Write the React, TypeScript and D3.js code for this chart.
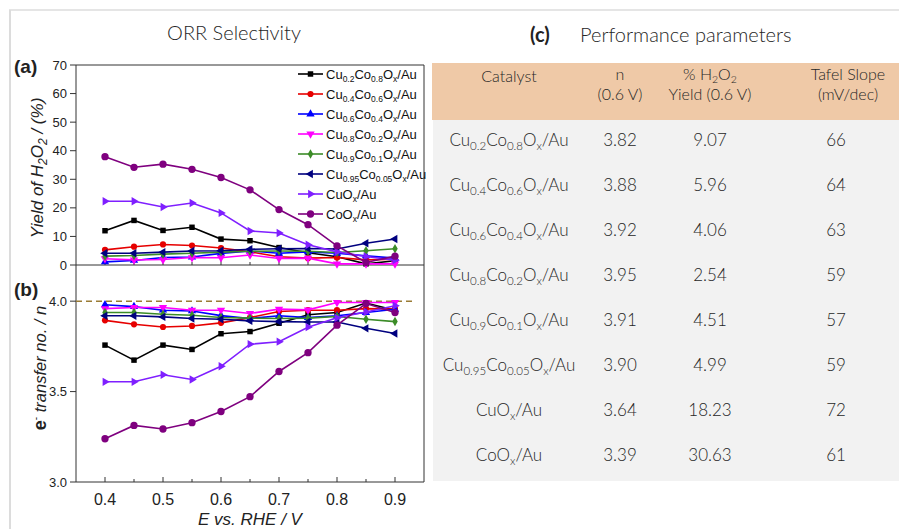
import React from "react";
import * as d3 from "d3";

const potentials = [0.4, 0.45, 0.5, 0.55, 0.6, 0.65, 0.7, 0.75, 0.8, 0.85, 0.9];
const seriesNames = [
  "Cu_0.2Co_0.8O_x/Au",
  "Cu_0.4Co_0.6O_x/Au",
  "Cu_0.6Co_0.4O_x/Au",
  "Cu_0.8Co_0.2O_x/Au",
  "Cu_0.9Co_0.1O_x/Au",
  "Cu_0.95Co_0.05O_x/Au",
  "CuO_x/Au",
  "CoO_x/Au",
];
const seriesColors = ["#000000", "#e60000", "#0000ff", "#ff00ff", "#3c8c28", "#00007f", "#7f1fff", "#7f007f"];
const seriesMarkers = ["square", "circle", "up", "down", "diamond", "left", "right", "bigcircle"];

const yieldCu02 = [12.0, 15.6, 12.1, 13.2, 9.07, 8.5, 6.1, 4.3, 2.9, 0.4, 1.5];
const yieldCu04 = [5.3, 6.4, 7.2, 6.8, 5.96, 4.6, 2.9, 2.4, 2.6, 1.8, 2.0];
const yieldCu06 = [1.1, 1.6, 2.6, 2.8, 4.06, 4.9, 4.1, 4.6, 4.1, 3.2, 2.4];
const yieldCu08 = [2.2, 1.8, 1.9, 2.6, 2.54, 3.5, 2.3, 2.4, 0.4, 0.4, 0.4];
const yieldCu09 = [3.1, 3.3, 3.8, 4.1, 4.51, 4.8, 4.9, 4.8, 4.4, 5.0, 5.7];
const yieldCu095 = [4.1, 4.1, 4.5, 4.9, 4.99, 5.5, 5.7, 5.8, 5.6, 7.6, 9.1];
const yieldCuO = [22.3, 22.3, 20.3, 21.7, 18.23, 11.9, 11.2, 7.1, 4.6, 3.0, 1.7];
const yieldCoO = [37.9, 34.2, 35.3, 33.5, 30.63, 26.3, 19.4, 14.1, 6.7, 0.9, 3.1];

const nCu02 = [3.757, 3.674, 3.757, 3.733, 3.82, 3.832, 3.878, 3.925, 3.937, 3.99, 3.95];
const nCu04 = [3.894, 3.872, 3.857, 3.863, 3.88, 3.909, 3.943, 3.95, 3.95, 3.959, 3.956];
const nCu06 = [3.98, 3.97, 3.95, 3.946, 3.92, 3.904, 3.919, 3.909, 3.919, 3.937, 3.955];
const nCu08 = [3.959, 3.965, 3.965, 3.95, 3.95, 3.932, 3.956, 3.952, 3.993, 3.993, 3.993];
const nCu09 = [3.937, 3.937, 3.928, 3.922, 3.91, 3.906, 3.904, 3.906, 3.915, 3.9, 3.887];
const nCu095 = [3.919, 3.919, 3.913, 3.904, 3.9, 3.891, 3.887, 3.885, 3.885, 3.85, 3.821];
const nCuO = [3.554, 3.554, 3.593, 3.567, 3.64, 3.762, 3.776, 3.856, 3.908, 3.94, 3.975];
const nCoO = [3.239, 3.313, 3.293, 3.328, 3.39, 3.472, 3.611, 3.715, 3.867, 3.987, 3.937];

const yieldSeries = [yieldCu02, yieldCu04, yieldCu06, yieldCu08, yieldCu09, yieldCu095, yieldCuO, yieldCoO];
const nSeries = [nCu02, nCu04, nCu06, nCu08, nCu09, nCu095, nCuO, nCoO];

const yieldTicks = [0, 10, 20, 30, 40, 50, 60, 70];
const nTicks = [3.0, 3.5, 4.0];
const xMajorTicks = [0.4, 0.5, 0.6, 0.7, 0.8, 0.9];
const xMinorTicks = [0.45, 0.55, 0.65, 0.75, 0.85];

const tableHeaders = [["Catalyst"], ["n", "(0.6 V)"], ["% H_2O_2", "Yield (0.6 V)"], ["Tafel Slope", "(mV/dec)"]];
const tableN = ["3.82", "3.88", "3.92", "3.95", "3.91", "3.90", "3.64", "3.39"];
const tableYield = ["9.07", "5.96", "4.06", "2.54", "4.51", "4.99", "18.23", "30.63"];
const tableTafel = ["66", "64", "63", "59", "57", "59", "72", "61"];

function parse(s: string) {
  const parts: { t: string; sub: boolean }[] = [];
  const re = /_(x|[0-9.]+)/g;
  let last = 0;
  let m;
  while ((m = re.exec(s))) {
    if (m.index > last) parts.push({ t: s.slice(last, m.index), sub: false });
    parts.push({ t: m[1], sub: true });
    last = m.index + m[0].length;
  }
  if (last < s.length) parts.push({ t: s.slice(last), sub: false });
  return parts;
}

function Formula(props: any) {
  const { s, subSize, shift, ...rest } = props;
  const parts = parse(s);
  let prevSub = false;
  return (
    <text {...rest}>
      {parts.map((p, i) => {
        let dy = 0;
        if (p.sub && !prevSub) dy = shift;
        if (!p.sub && prevSub) dy = -shift;
        prevSub = p.sub;
        return (
          <tspan key={i} dy={dy} fontSize={p.sub ? subSize : undefined}>
            {p.t}
          </tspan>
        );
      })}
    </text>
  );
}

function markerPath(kind: string) {
  const map: any = {
    square: [d3.symbolSquare, 30, 0],
    circle: [d3.symbolCircle, 30, 0],
    up: [d3.symbolTriangle, 30, 0],
    down: [d3.symbolTriangle, 30, 180],
    diamond: [d3.symbolDiamond, 26, 0],
    left: [d3.symbolTriangle, 30, -90],
    right: [d3.symbolTriangle, 30, 90],
    bigcircle: [d3.symbolCircle, 42, 0],
  };
  const [t, size, rot] = map[kind];
  return { d: d3.symbol().type(t).size(size)() as string, rot };
}

export default function App() {
  const x = d3.scaleLinear().domain([0.35, 0.95]).range([76, 424]);
  const ya = d3.scaleLinear().domain([0, 70]).range([265, 65]);
  const yb = d3.scaleLinear().domain([3.0, 4.2]).range([482, 265]);
  const axisColor = "#333";
  const sans = "'Liberation Sans', Arial, sans-serif";
  const lato = "Lato, 'Open Sans', sans-serif";
  const tcol = "#262626";

  const lineA = d3.line<number>().x((_, i) => x(potentials[i])).y((v) => ya(v));
  const lineB = d3.line<number>().x((_, i) => x(potentials[i])).y((v) => yb(v));

  const renderSeries = (data: number[][], line: any, ys: any) =>
    data.map((vals, si) => {
      const mk = markerPath(seriesMarkers[si]);
      return (
        <g key={si}>
          <path d={line(vals)} fill="none" stroke={seriesColors[si]} strokeWidth={1.6} />
          {vals.map((v, i) => (
            <path
              key={i}
              d={mk.d}
              fill={seriesColors[si]}
              transform={`translate(${x(potentials[i])},${ys(v)}) rotate(${mk.rot})`}
            />
          ))}
        </g>
      );
    });

  const rowY = (i: number) => 146 + i * 45;
  const colX = [509, 620, 710, 836];

  return (
    <svg width={899} height={529} style={{ position: "absolute", left: 0, top: 0, background: "#fff" }}>
      <rect x={0} y={0} width={899} height={529} fill="#fff" />
      {/* frame */}
      <line x1={9} y1={10} x2={899} y2={10} stroke="#dcdcdc" strokeWidth={1.5} />
      <line x1={10} y1={10} x2={10} y2={529} stroke="#dcdcdc" strokeWidth={2} />

      {/* title */}
      <text x={234} y={40} textAnchor="middle" fontFamily={lato} fontSize={20} fontWeight={300} fill={tcol}>
        ORR Selectivity
      </text>

      {/* Panel a axes */}
      <line x1={76} y1={65} x2={424} y2={65} stroke={axisColor} />
      <line x1={424} y1={65} x2={424} y2={482} stroke={axisColor} />
      <line x1={76} y1={65} x2={76} y2={482} stroke={axisColor} />
      <line x1={76} y1={265} x2={424} y2={265} stroke={axisColor} />
      <line x1={76} y1={482} x2={424} y2={482} stroke={axisColor} />
      {yieldTicks.map((t) => (
        <g key={t}>
          <line x1={70} x2={76} y1={ya(t)} y2={ya(t)} stroke={axisColor} />
          <text x={67} y={ya(t) + 4.5} textAnchor="end" fontFamily={sans} fontSize={13} fill="#222">
            {t}
          </text>
        </g>
      ))}
      {nTicks.map((t) => (
        <g key={t}>
          <line x1={70} x2={76} y1={yb(t)} y2={yb(t)} stroke={axisColor} />
          <text x={67} y={yb(t) + 4.5} textAnchor="end" fontFamily={sans} fontSize={13} fill="#222">
            {t.toFixed(1)}
          </text>
        </g>
      ))}
      {[265, 482].map((yy) => (
        <g key={yy}>
          {xMajorTicks.map((t) => (
            <line key={t} x1={x(t)} x2={x(t)} y1={yy} y2={yy - 5} stroke={axisColor} />
          ))}
          {xMinorTicks.map((t) => (
            <line key={t} x1={x(t)} x2={x(t)} y1={yy} y2={yy - 3} stroke={axisColor} />
          ))}
        </g>
      ))}
      {xMajorTicks.map((t) => (
        <text key={t} x={x(t)} y={505} textAnchor="middle" fontFamily={sans} fontSize={16} fill="#222">
          {t.toFixed(1)}
        </text>
      ))}
      <text x={250} y={525} textAnchor="middle" fontFamily={sans} fontSize={17} fontStyle="italic" fill="#222">
        E vs. RHE / V
      </text>

      {/* y labels */}
      <g transform="translate(43,168) rotate(-90)">
        <Formula
          s="Yield of H_2O_2 / (%)"
          x={0}
          y={0}
          textAnchor="middle"
          fontFamily={sans}
          fontSize={17}
          fontStyle="italic"
          fill="#222"
          subSize={12}
          shift={4}
        />
      </g>
      <g transform="translate(46,368) rotate(-90)">
        <text x={0} y={0} textAnchor="middle" fontFamily={sans} fontSize={16.5} fill="#222">
          <tspan fontWeight="bold" fontSize={18}>e</tspan>
          <tspan dy={-7} fontSize={10}>-</tspan>
          <tspan dy={7} fontStyle="italic"> transfer no. / n</tspan>
        </text>
      </g>
      <text x={14} y={73} fontFamily={sans} fontSize={19} fontWeight="bold" fill="#222">
        (a)
      </text>
      <text x={14} y={296} fontFamily={sans} fontSize={19} fontWeight="bold" fill="#222">
        (b)
      </text>

      {/* dashed 4.0 */}
      <line x1={76} x2={413} y1={yb(4.0)} y2={yb(4.0)} stroke="#9a7b35" strokeWidth={1.5} strokeDasharray="6,4" />

      {renderSeries(yieldSeries, lineA, ya)}
      {renderSeries(nSeries, lineB, yb)}

      {/* legend */}
      {seriesNames.map((nm, i) => {
        const yy = 74 + i * 20;
        const mk = markerPath(seriesMarkers[i]);
        return (
          <g key={nm}>
            <line x1={298} x2={323} y1={yy} y2={yy} stroke={seriesColors[i]} strokeWidth={1.6} />
            <path d={mk.d} fill={seriesColors[i]} transform={`translate(310.5,${yy}) rotate(${mk.rot})`} />
            <Formula
              s={nm}
              x={326}
              y={yy + 4.5}
              fontFamily={sans}
              fontSize={13}
              fill="#111"
              subSize={8.5}
              shift={3}
            />
          </g>
        );
      })}

      {/* table */}
      <text x={530} y={42} fontFamily={lato} fontSize={20} fontWeight="bold" fill="#222">
        (c)
      </text>
      <text x={580} y={42} fontFamily={lato} fontSize={20} fontWeight={300} fill={tcol}>
        Performance parameters
      </text>
      <rect x={432} y={63} width={467} height={57} fill="#efc9a7" />
      <rect x={433} y={120} width={466} height={361} fill="#f2f2f2" />
      {tableHeaders.map((h, ci) =>
        h.map((line, li) => (
          <Formula
            key={ci + "-" + li}
            s={line}
            x={colX[ci] + (ci === 3 ? 12 : 0)}
            y={h.length === 1 ? 82 : 80 + li * 20}
            textAnchor="middle"
            fontFamily={lato}
            fontSize={16}
            fontWeight={300}
            fill={tcol}
            subSize={10.5}
            shift={2.5}
          />
        ))
      )}
      {seriesNames.map((nm, i) => (
        <g key={nm}>
          <Formula
            s={nm}
            x={colX[0]}
            y={rowY(i)}
            textAnchor="middle"
            fontFamily={lato}
            fontSize={17}
            fontWeight={300}
            fill={tcol}
            subSize={11.5}
            shift={4}
          />
          <text x={colX[1]} y={rowY(i)} textAnchor="middle" fontFamily={lato} fontSize={17} fontWeight={300} fill={tcol}>
            {tableN[i]}
          </text>
          <text x={colX[2]} y={rowY(i)} textAnchor="middle" fontFamily={lato} fontSize={17} fontWeight={300} fill={tcol}>
            {tableYield[i]}
          </text>
          <text x={colX[3]} y={rowY(i)} textAnchor="middle" fontFamily={lato} fontSize={17} fontWeight={300} fill={tcol}>
            {tableTafel[i]}
          </text>
        </g>
      ))}
    </svg>
  );
}
